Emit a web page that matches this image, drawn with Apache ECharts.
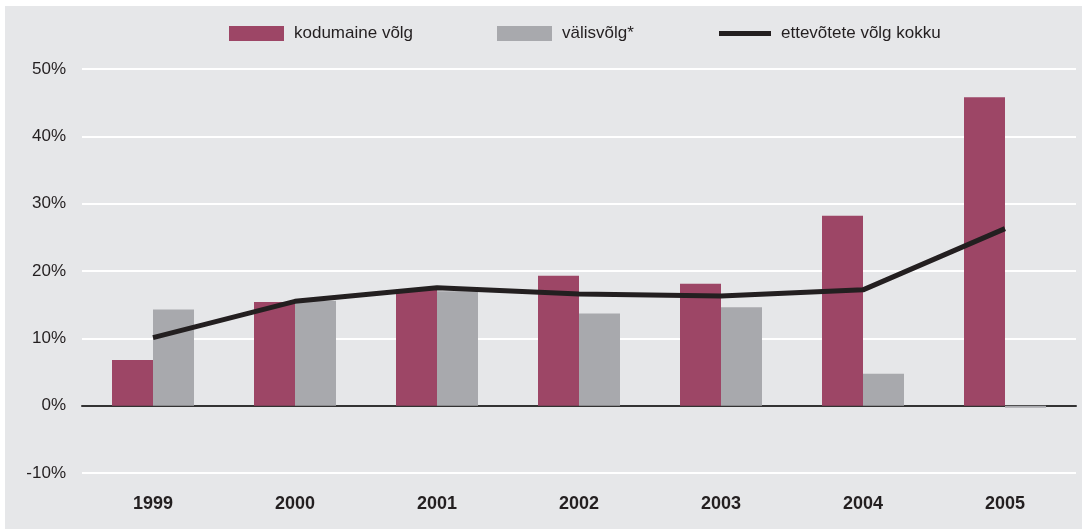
<!DOCTYPE html>
<html>
<head>
<meta charset="utf-8">
<script src="https://cdn.jsdelivr.net/npm/echarts@6/dist/echarts.min.js"></script>
<style>
  html, body { margin: 0; padding: 0; background: #fff; }
  #chart { position: absolute; left: 5px; top: 6px; width: 1077px; height: 523px; background: #e6e7e9; }
</style>
</head>
<body>
<div id="chart"></div>
<script>
// andmed loetud jooniselt (%)
const years = ['1999', '2000', '2001', '2002', '2003', '2004', '2005'];
const kodumaine = [6.8, 15.4, 17.2, 19.3, 18.1, 28.2, 45.8];
const valis = [14.3, 15.6, 17.0, 13.7, 14.6, 4.75, -0.3];
const kokku = [10.1, 15.5, 17.5, 16.6, 16.3, 17.2, 26.3];

const FONT = 'Liberation Sans, Arial, sans-serif';
const legendText = { fontFamily: FONT, fontSize: 17, color: '#231f20', padding: [0, 0, 0, 5] };

const myChart = echarts.init(document.getElementById('chart'));
const option = {
  animation: false,
  legend: [
    {
      left: 219, top: 14, itemWidth: 55, itemHeight: 15, icon: 'rect',
      textStyle: legendText, data: ['kodumaine võlg']
    },
    {
      left: 487, top: 14, itemWidth: 55, itemHeight: 15, icon: 'rect',
      textStyle: legendText, data: ['välisvõlg*']
    },
    {
      left: 709, top: 14, itemWidth: 52, itemHeight: 5, icon: 'rect',
      textStyle: legendText, data: ['ettevõtete võlg kokku']
    }
  ],
  grid: { left: 77, right: 6, top: 63, bottom: 56 },
  xAxis: {
    type: 'category',
    data: years,
    axisTick: { show: false },
    axisLine: { onZero: true, lineStyle: { color: '#333', width: 2 } },
    axisLabel: { fontFamily: FONT, fontSize: 18, fontWeight: 'bold', color: '#231f20', margin: 22 }
  },
  yAxis: {
    type: 'value',
    min: -10, max: 50, interval: 10,
    axisLine: { show: false },
    axisTick: { show: false },
    axisLabel: { fontFamily: FONT, fontSize: 17, color: '#231f20', margin: 16, formatter: '{value}%' },
    splitLine: { lineStyle: { color: '#ffffff', width: 2 } }
  },
  series: [
    {
      name: 'kodumaine võlg', type: 'bar', data: kodumaine,
      barWidth: 41, barGap: '0%', itemStyle: { color: '#9d4666' }
    },
    {
      name: 'välisvõlg*', type: 'bar', data: valis,
      barWidth: 41, itemStyle: { color: '#a8a9ad' }
    },
    {
      name: 'ettevõtete võlg kokku', type: 'line', data: kokku,
      symbol: 'none', z: 5,
      itemStyle: { color: '#231f20' },
      lineStyle: { color: '#231f20', width: 5 }
    }
  ]
};
myChart.setOption(option);
window.addEventListener('resize', () => myChart.resize());
</script>
</body>
</html>
